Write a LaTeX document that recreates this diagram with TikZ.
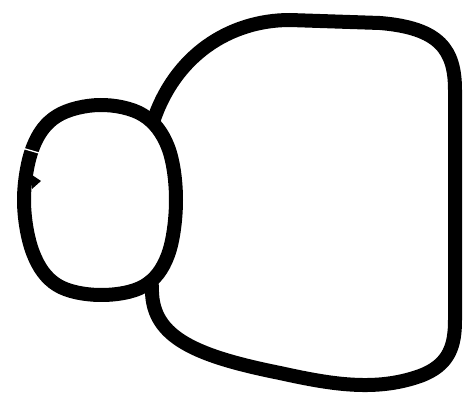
\documentclass[tikz,border=0pt]{standalone}
\usepackage{tikz}
\usetikzlibrary{calc}
\tikzset{
  contur/.style  = {draw=black, line width=14pt, line join=round, line cap=round},
  crestatura/.style = {draw=white, line width=1.3pt},
  varf/.style    = {fill=black}
}

\begin{document}
\begin{tikzpicture}[x=1pt, y=-1pt]
        \useasboundingbox (0,0) rectangle (469,401);
        % bucla mica din stanga
        \draw[contur] plot[smooth cycle, tension=0.6] coordinates {
            (100,105) (143,115) (168,147) (176,200) (168,255)
            (144,286) (100,295) (57,285) (33,253) (24,200) (33,147) (57,116)};
        \coordinate (sus) at (153,122);
        \coordinate (jos) at (152,286);
        % bucla mare din dreapta
        \draw[contur] (jos) .. controls (150,335) and (190,355) .. (280,373)
            .. controls (330,384) and (375,392) .. (420,376)
            .. controls (450,365) and (455,345) .. (455,320) -- (455,90)
            .. controls (455,50) and (440,28) .. (380,23) -- (290,20)
            .. controls (230,20) and (175,55) .. (sus);
        % semne pe bucla mica
        \draw[crestatura] (15,146) -- (39,153);
        \fill[varf] (32,175) -- (41,181) -- (32,189) -- cycle;
    \end{tikzpicture}
\end{document}
